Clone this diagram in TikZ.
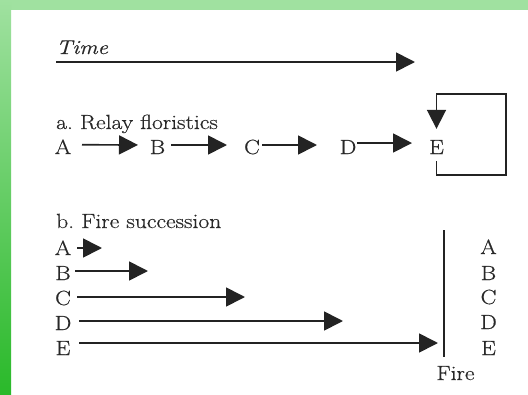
\documentclass[tikz,border=0pt]{standalone}
\usepackage{fontspec}
\setmainfont{Latin Modern Roman}[FakeStretch=1.15, FakeBold=0.5]
\usetikzlibrary{arrows.meta,calc}
\definecolor{textcol}{RGB}{40,40,40}
\definecolor{arrcol}{RGB}{35,35,35}
\definecolor{gtop}{RGB}{160,225,160}
\definecolor{gmid}{RGB}{125,212,125}
\definecolor{gbot}{RGB}{42,185,42}
\tikzset{
  lbl/.style={inner sep=0pt, text=textcol, anchor=base, font=\fontsize{20.5}{24}\selectfont\frenchspacing},
  hlbl/.style={lbl, anchor=base west},
  arr/.style={line width=1.7pt, draw=arrcol, -{Triangle[length=19pt,width=19pt]}},
  plainline/.style={line width=1.7pt, draw=arrcol},
}
\begin{document}
\begin{tikzpicture}[x=1pt,y=-1pt]
\useasboundingbox (0,0) rectangle (528,394);
\fill[white] (0,0) rectangle (528,394);
\fill[gtop] (0,0) rectangle (528,10);
\shade[top color=gtop, middle color=gmid, bottom color=gbot] (0,0) rectangle (11,394);
% Time
\node[hlbl, font=\fontsize{20}{24}\selectfont\itshape] (time) at (56,54) {Time};
\coordinate (timeEnd) at (415,62);
\draw[arr] ($(time.base west)+(0,8)$) -- (timeEnd);
% a. Relay floristics
\node[hlbl] (ahead) at (56,129) {a. Relay floristics};
\node[lbl] (rA) at (63,154) {A};
\node[lbl] (rB) at (157.5,154) {B};
\node[lbl] (rC) at (252,154) {C};
\node[lbl] (rD) at (348,154) {D};
\node[lbl] (rE) at (436.5,154) {E};
\draw[arr, shorten <=19pt, shorten >=19.5pt] ([yshift=2pt]rA.center) -- ([yshift=2pt]rB.center);
\draw[arr, shorten <=13.5pt, shorten >=25pt] ([yshift=2pt]rB.center) -- ([yshift=2pt]rC.center);
\draw[arr, shorten <=10pt, shorten >=31pt] ([yshift=2pt]rC.center) -- ([yshift=2pt]rD.center);
\draw[arr, shorten <=9pt, shorten >=24.5pt] ([yshift=4pt]rD.center) -- ([yshift=4pt]rE.center);
\coordinate (loopBR) at (506,175);
\coordinate (loopTR) at (506,94);
\draw[arr] ([yshift=-7pt]rE.south) |- (loopBR) -- (loopTR) -| ([yshift=11pt]rE.north);
% b. Fire succession
\node[hlbl] (bhead) at (56,228) {b. Fire succession};
\node[lbl] (fA) at (63,255) {A};
\node[lbl] (fB) at (63,280) {B};
\node[lbl] (fC) at (63,305) {C};
\node[lbl] (fD) at (63,330) {D};
\node[lbl] (fE) at (63,355) {E};
\coordinate (tA) at (102,248);
\coordinate (tB) at (148,271);
\coordinate (tC) at (245,297);
\coordinate (tD) at (343,321);
\coordinate (tE) at (438,343);
\draw[arr] ($(fA.center |- tA)+(14,0)$) -- (tA);
\draw[arr] ($(fB.center |- tB)+(12,0)$) -- (tB);
\draw[arr] ($(fC.center |- tC)+(14,0)$) -- (tC);
\draw[arr] ($(fD.center |- tD)+(16,0)$) -- (tD);
\draw[arr] ($(fE.center |- tE)+(16,0)$) -- (tE);
\coordinate (fireTop) at (444,230);
\coordinate (fireBot) at (444,357);
\draw[plainline] (fireTop) -- (fireBot);
\node[lbl] (fire) at (455.5,380) {Fire};
\node[lbl] (gA) at (488.5,254) {A};
\node[lbl] (gB) at (488.5,280) {B};
\node[lbl] (gC) at (488.5,304) {C};
\node[lbl] (gD) at (488.5,329) {D};
\node[lbl] (gE) at (488.5,355) {E};
\end{tikzpicture}
\end{document}
